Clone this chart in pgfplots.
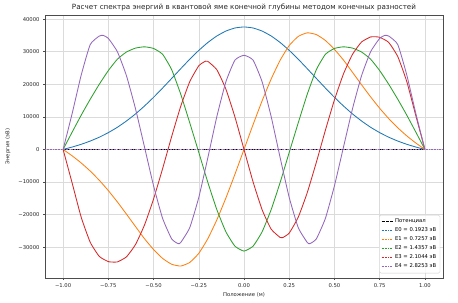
\documentclass[border=0pt]{standalone}
\usepackage{fontspec}
\setmainfont{DejaVu Sans}
\usepackage{pgfplots}
\pgfplotsset{compat=1.18}
\definecolor{tabblue}{HTML}{1F77B4}
\definecolor{taborange}{HTML}{FF7F0E}
\definecolor{tabgreen}{HTML}{2CA02C}
\definecolor{tabred}{HTML}{D62728}
\definecolor{tabpurple}{HTML}{9467BD}
\newcommand{\sm}{\fontsize{5.3}{6.2}\selectfont}
\begin{document}
\begin{tikzpicture}
\useasboundingbox (0,0) rectangle (458bp,303bp);
\begin{axis}[
  at={(45bp,25bp)}, anchor=south west,
  scale only axis, width=398bp, height=263bp,
  xmin=-1.1, xmax=1.1, ymin=-39470, ymax=41270,
  scaled x ticks=false, scaled y ticks=false,
  xtick={-1,-0.75,-0.5,-0.25,0,0.25,0.5,0.75,1},
  xticklabels={−1.00,−0.75,−0.50,−0.25,0.00,0.25,0.50,0.75,1.00},
  ytick={-30000,-20000,-10000,0,10000,20000,30000,40000},
  yticklabels={−30000,−20000,−10000,0,10000,20000,30000,40000},
  grid=major,
  major grid style={gray!28, line width=0.5bp},
  axis line style={black!70, line width=0.5bp},
  tick align=outside, tick pos=left,
  major tick length=1.9bp,
  tick style={black!70, line width=0.5bp},
  ticklabel style={font=\sm, text=black!85},
  xticklabel style={yshift=-0.5bp},
  every axis title shift=0pt,
  title={Расчет спектра энергий в квантовой яме конечной глубины методом конечных разностей},
  title style={font=\fontsize{7.2}{8.4}\selectfont, text=black!85, at={(axis description cs:0.5,1.0304)}, anchor=center},
  xlabel={Положение (м)},
  ylabel={Энергия (эВ)},
  xlabel style={font=\sm, text=black!85, at={(axis description cs:0.5,-0.0627)}, anchor=center},
  ylabel style={font=\sm, text=black!85, at={(axis description cs:-0.093,0.5)}, anchor=center},
  legend style={at={(0.993,0.018)}, anchor=south east, font=\sm, draw=black!20, rounded corners=1.5bp, fill=white, fill opacity=0.85, text opacity=1, inner sep=1.8bp, row sep=-0.4bp},
  legend cell align=left,
  legend image code/.code={\draw[#1] (0bp,0bp) -- (11bp,0bp);},
]
% potential
\addplot[black, line width=0.8bp, dash pattern=on 2.9bp off 1.3bp] coordinates {(-1,0) (1,0)};
\addlegendentry{Потенциал}

% E0
\addplot[tabblue, line width=0.85bp, smooth, tension=0.3, forget plot] coordinates {
(-1,0)(-0.95,730)(-0.9,1570)(-0.85,2570)(-0.8,3750)(-0.75,5160)(-0.7,6800)(-0.65,8720)(-0.6,10890)(-0.55,13330)(-0.5,15990)(-0.45,18840)(-0.4,21790)(-0.35,24770)(-0.3,27680)(-0.25,30400)(-0.2,32820)(-0.15,34830)(-0.1,36340)(-0.05,37280)(0,37600)
(0.05,37280)(0.1,36340)(0.15,34830)(0.2,32820)(0.25,30400)(0.3,27680)(0.35,24770)(0.4,21790)(0.45,18840)(0.5,15990)(0.55,13330)(0.6,10890)(0.65,8720)(0.7,6800)(0.75,5160)(0.8,3750)(0.85,2570)(0.9,1570)(0.95,730)(1,0)};
\addplot[tabblue, line width=0.6bp, dash pattern=on 0.6bp off 1bp] coordinates {(-1.1,0.1923) (1.1,0.1923)};
\addlegendentry{E0 = 0.1923 эВ}

% E1
\addplot[taborange, line width=0.85bp, smooth, tension=0.3, forget plot] coordinates {
(-1,0)(-0.95,-1960)(-0.9,-4150)(-0.85,-6640)(-0.8,-9460)(-0.75,-12630)(-0.7,-16120)(-0.65,-19840)(-0.6,-23650)(-0.55,-27420)(-0.5,-30720)(-0.45,-33450)(-0.4,-35250)(-0.35,-35800)(-0.3,-34700)(-0.25,-31900)(-0.2,-27400)(-0.15,-21600)(-0.1,-14900)(-0.05,-7600)(0,0)
(0.05,7600)(0.1,14900)(0.15,21600)(0.2,27400)(0.25,31900)(0.3,34700)(0.35,35800)(0.4,35250)(0.45,33450)(0.5,30720)(0.55,27420)(0.6,23650)(0.65,19840)(0.7,16120)(0.75,12630)(0.8,9460)(0.85,6640)(0.9,4150)(0.95,1960)(1,0)};
\addplot[taborange, line width=0.6bp, dash pattern=on 0.6bp off 1bp] coordinates {(-1.1,0.7257) (1.1,0.7257)};
\addlegendentry{E1 = 0.7257 эВ}

% E2
\addplot[tabgreen, line width=0.85bp, smooth, tension=0.3, forget plot] coordinates {
(-1,0)(-0.95,5300)(-0.9,10500)(-0.85,15400)(-0.8,20000)(-0.75,24200)(-0.7,27700)(-0.65,29900)(-0.6,31100)(-0.55,31500)(-0.5,31000)(-0.45,29200)(-0.4,24500)(-0.35,17000)(-0.3,8200)(-0.25,-900)(-0.2,-10100)(-0.15,-18500)(-0.1,-25300)(-0.05,-29700)(0,-31200)
(0.05,-29700)(0.1,-25300)(0.15,-18500)(0.2,-10100)(0.25,-900)(0.3,8200)(0.35,17000)(0.4,24500)(0.45,29200)(0.5,31000)(0.55,31500)(0.6,31100)(0.65,29900)(0.7,27700)(0.75,24200)(0.8,20000)(0.85,15400)(0.9,10500)(0.95,5300)(1,0)};
\addplot[tabgreen, line width=0.6bp, dash pattern=on 0.6bp off 1bp] coordinates {(-1.1,1.4357) (1.1,1.4357)};
\addlegendentry{E2 = 1.4357 эВ}

% E3
\addplot[tabred, line width=0.85bp, smooth, tension=0.3, forget plot] coordinates {
(-1,0)(-0.95,-10300)(-0.9,-20800)(-0.85,-28500)(-0.8,-32840)(-0.75,-34430)(-0.715,-34600)(-0.7,-34540)(-0.65,-33000)(-0.6,-29220)(-0.55,-23210)(-0.5,-15240)(-0.45,-5910)(-0.4,3930)(-0.35,13200)(-0.3,20780)(-0.25,25670)(-0.213,27100)(-0.2,27040)(-0.15,24460)(-0.1,18490)(-0.05,9940)(0,0)
(0.05,-9940)(0.1,-18490)(0.15,-24460)(0.2,-27040)(0.213,-27100)(0.25,-25670)(0.3,-20780)(0.35,-13200)(0.4,-3930)(0.45,5910)(0.5,15240)(0.55,23210)(0.6,29220)(0.65,33000)(0.7,34540)(0.715,34600)(0.75,34430)(0.8,32840)(0.85,28500)(0.9,20800)(0.95,10300)(1,0)};
\addplot[tabred, line width=0.6bp, dash pattern=on 0.6bp off 1bp] coordinates {(-1.1,2.1044) (1.1,2.1044)};
\addlegendentry{E3 = 2.1044 эВ}

% E4
\addplot[tabpurple, line width=0.85bp, smooth, tension=0.3, forget plot] coordinates {
(-1,0)(-0.95,11000)(-0.9,22800)(-0.85,32200)(-0.8,34800)(-0.778,35000)(-0.75,34100)(-0.7,30000)(-0.65,22670)(-0.6,12550)(-0.55,740)(-0.5,-11140)(-0.45,-21150)(-0.4,-27450)(-0.365,-28900)(-0.35,-28590)(-0.3,-24020)(-0.25,-14760)(-0.2,-2580)(-0.15,10110)(-0.1,20790)(-0.05,27420)(0,28900)
(0.05,27420)(0.1,20790)(0.15,10110)(0.2,-2580)(0.25,-14760)(0.3,-24020)(0.35,-28590)(0.365,-28900)(0.4,-27450)(0.45,-21150)(0.5,-11140)(0.55,740)(0.6,12550)(0.65,22670)(0.7,30000)(0.75,34100)(0.778,35000)(0.8,34800)(0.85,32200)(0.9,22800)(0.95,11000)(1,0)};
\addplot[tabpurple, line width=0.6bp, dash pattern=on 0.6bp off 1bp] coordinates {(-1.1,2.8253) (1.1,2.8253)};
\addlegendentry{E4 = 2.8253 эВ}

\node[anchor=east, font=\sm, text=black!85, inner sep=0pt] at (rel axis cs:1,0) [yshift=-15bp] {1e−9};
\end{axis}
\end{tikzpicture}
\end{document}
